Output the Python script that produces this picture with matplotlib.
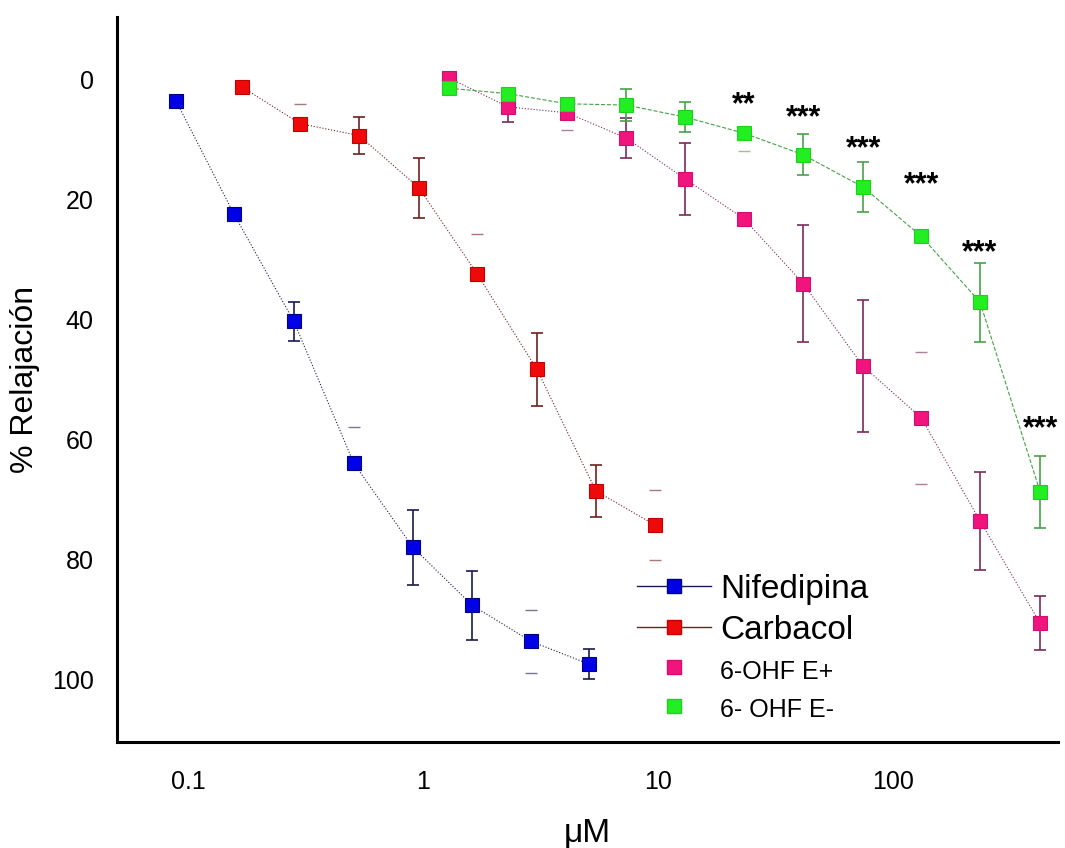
import matplotlib
matplotlib.use('Agg')
import matplotlib.pyplot as plt
import numpy as np

plt.rcParams['font.family'] = ['Liberation Sans', 'DejaVu Sans']

# concentracion (uM) y % relajacion
nif_x = [0.089, 0.157, 0.282, 0.508, 0.905, 1.62, 2.88, 5.08]
nif_y = [3.5, 22.4, 40.3, 64.0, 78.0, 87.7, 93.7, 97.5]
nif_eup = [0, 0, 3.3, 6.0, 6.3, 5.7, 5.3, 2.5]
nif_edn = [0, 0, 3.3, 0, 6.3, 5.7, 5.3, 2.5]
nif_caponly = [False, False, False, True, False, False, True, False]

car_x = [0.17, 0.30, 0.535, 0.96, 1.70, 3.05, 5.44, 9.7]
car_y = [1.2, 7.3, 9.3, 18.0, 32.4, 48.3, 68.6, 74.3]
car_eup = [0, 3.2, 3.1, 5.0, 6.6, 6.1, 4.3, 5.8]
car_edn = [0, 0, 3.1, 5.0, 0, 6.1, 4.3, 5.8]
car_caponly = [False, True, False, False, True, False, False, True]

ohf_x = [1.29, 2.30, 4.10, 7.31, 13.0, 23.2, 41.4, 74.5, 131.6, 234, 422]
ep_y = [-0.3, 4.5, 5.5, 9.7, 16.5, 23.2, 34.0, 47.8, 56.4, 73.6, 90.7]
ep_eup = [0.5, 0, 0, 3.3, 6.0, 0, 9.8, 11.0, 11.0, 8.2, 4.5]
ep_edn = [0, 2.5, 2.8, 3.3, 6.0, 0, 9.8, 11.0, 11.0, 8.2, 4.5]
ep_caponly = [False, False, True, False, False, False, False, False, True, False, False]

em_y = [1.4, 2.3, 4.0, 4.2, 6.2, 8.9, 12.5, 17.9, 26.1, 37.1, 68.8]
em_eup = [0, 0, 0, 2.7, 2.5, 0, 3.4, 4.2, 0, 6.6, 6.0]
em_edn = [0, 0, 0, 2.7, 2.5, 3.0, 3.4, 4.2, 0, 6.6, 6.0]
em_caponly = [False, False, False, False, False, True, False, False, False, False, False]

# asteriscos sobre 6-OHF E-
star_x = [23.2, 41.4, 74.5, 131.6, 234, 422]
star_y = [4.2, 6.4, 11.6, 17.6, 28.9, 58.3]
star_txt = ['**', '***', '***', '***', '***', '***']


def draw_series(ax, x, y, eup, edn, caponly, face, edge, ecol, ls):
    x = np.array(x)
    y = np.array(y)
    eup = np.array(eup)
    edn = np.array(edn)
    cap = np.array(caponly)
    ax.plot(x, y, ls=ls, lw=0.8, color=ecol, zorder=2)
    full = ~cap
    ax.errorbar(x[full], y[full], yerr=[eup[full], edn[full]], fmt='none',
                ecolor=ecol, elinewidth=1.2, capsize=4.5, capthick=1.2, zorder=3)
    if cap.any():
        ax.errorbar(x[cap], y[cap], yerr=[eup[cap], edn[cap]], fmt='none',
                    ecolor=ecol, elinewidth=0, capsize=4.5, capthick=1.0,
                    alpha=0.6, zorder=3)
    ax.plot(x, y, ls='none', marker='s', ms=10, mfc=face, mec=edge, mew=0.8, zorder=4)


fig = plt.figure(figsize=(10.65, 8.48), dpi=100)
ax = fig.add_axes([0.110, 0.125, 0.883, 0.855])

draw_series(ax, nif_x, nif_y, nif_eup, nif_edn, nif_caponly, '#0000e6', '#000080', '#1a1a50', ':')
draw_series(ax, car_x, car_y, car_eup, car_edn, car_caponly, '#ee0a0a', '#c00000', '#702020', ':')
draw_series(ax, ohf_x, ep_y, ep_eup, ep_edn, ep_caponly, '#f0147c', '#d01070', '#7a2a5a', ':')
draw_series(ax, ohf_x, em_y, em_eup, em_edn, em_caponly, '#22ee22', '#20d020', '#4aa04a', '--')

for sx, sy, st in zip(star_x, star_y, star_txt):
    ax.text(sx, sy, st, ha='center', va='center', fontsize=22, fontweight='bold')

ax.set_xscale('log')
ax.set_xlim(0.05, 500)
ax.set_ylim(110.5, -10.5)
ax.set_xticks([0.1, 1, 10, 100])
ax.set_xticklabels(['0.1', '1', '10', '100'])
ax.set_yticks([0, 20, 40, 60, 80, 100])
ax.minorticks_off()
ax.tick_params(axis='both', length=0, labelsize=18)
ax.tick_params(axis='x', pad=20)
ax.tick_params(axis='y', pad=17)

for side in ['top', 'right']:
    ax.spines[side].set_visible(False)
for side in ['left', 'bottom']:
    ax.spines[side].set_linewidth(2.2)

ax.set_ylabel('% Relajación', fontsize=23)
ax.yaxis.set_label_coords(-0.082, 0.5)
ax.set_xlabel('μM', fontsize=24)
ax.xaxis.set_label_coords(0.5, -0.105)

h1, = ax.plot([], [], color='#1a1a50', lw=1, marker='s', ms=10, mfc='#0000e6', mec='#000080')
h2, = ax.plot([], [], color='#702020', lw=1, marker='s', ms=10, mfc='#ee0a0a', mec='#c00000')
h3, = ax.plot([], [], ls='none', marker='s', ms=10, mfc='#f0147c', mec='#d01070')
h4, = ax.plot([], [], ls='none', marker='s', ms=10, mfc='#22ee22', mec='#20d020')
leg = ax.legend([h1, h2, h3, h4], ['Nifedipina', 'Carbacol', '6-OHF E+', '6- OHF E-'],
                loc='upper left', bbox_to_anchor=(0.553, 0.232), frameon=False,
                fontsize=24, handlelength=2.2, handletextpad=0.28, labelspacing=0.3,
                borderaxespad=0, borderpad=0)
for t, fs in zip(leg.get_texts(), [24, 24, 18, 18]):
    t.set_fontsize(fs)

fig.savefig('out.png', dpi=100)
